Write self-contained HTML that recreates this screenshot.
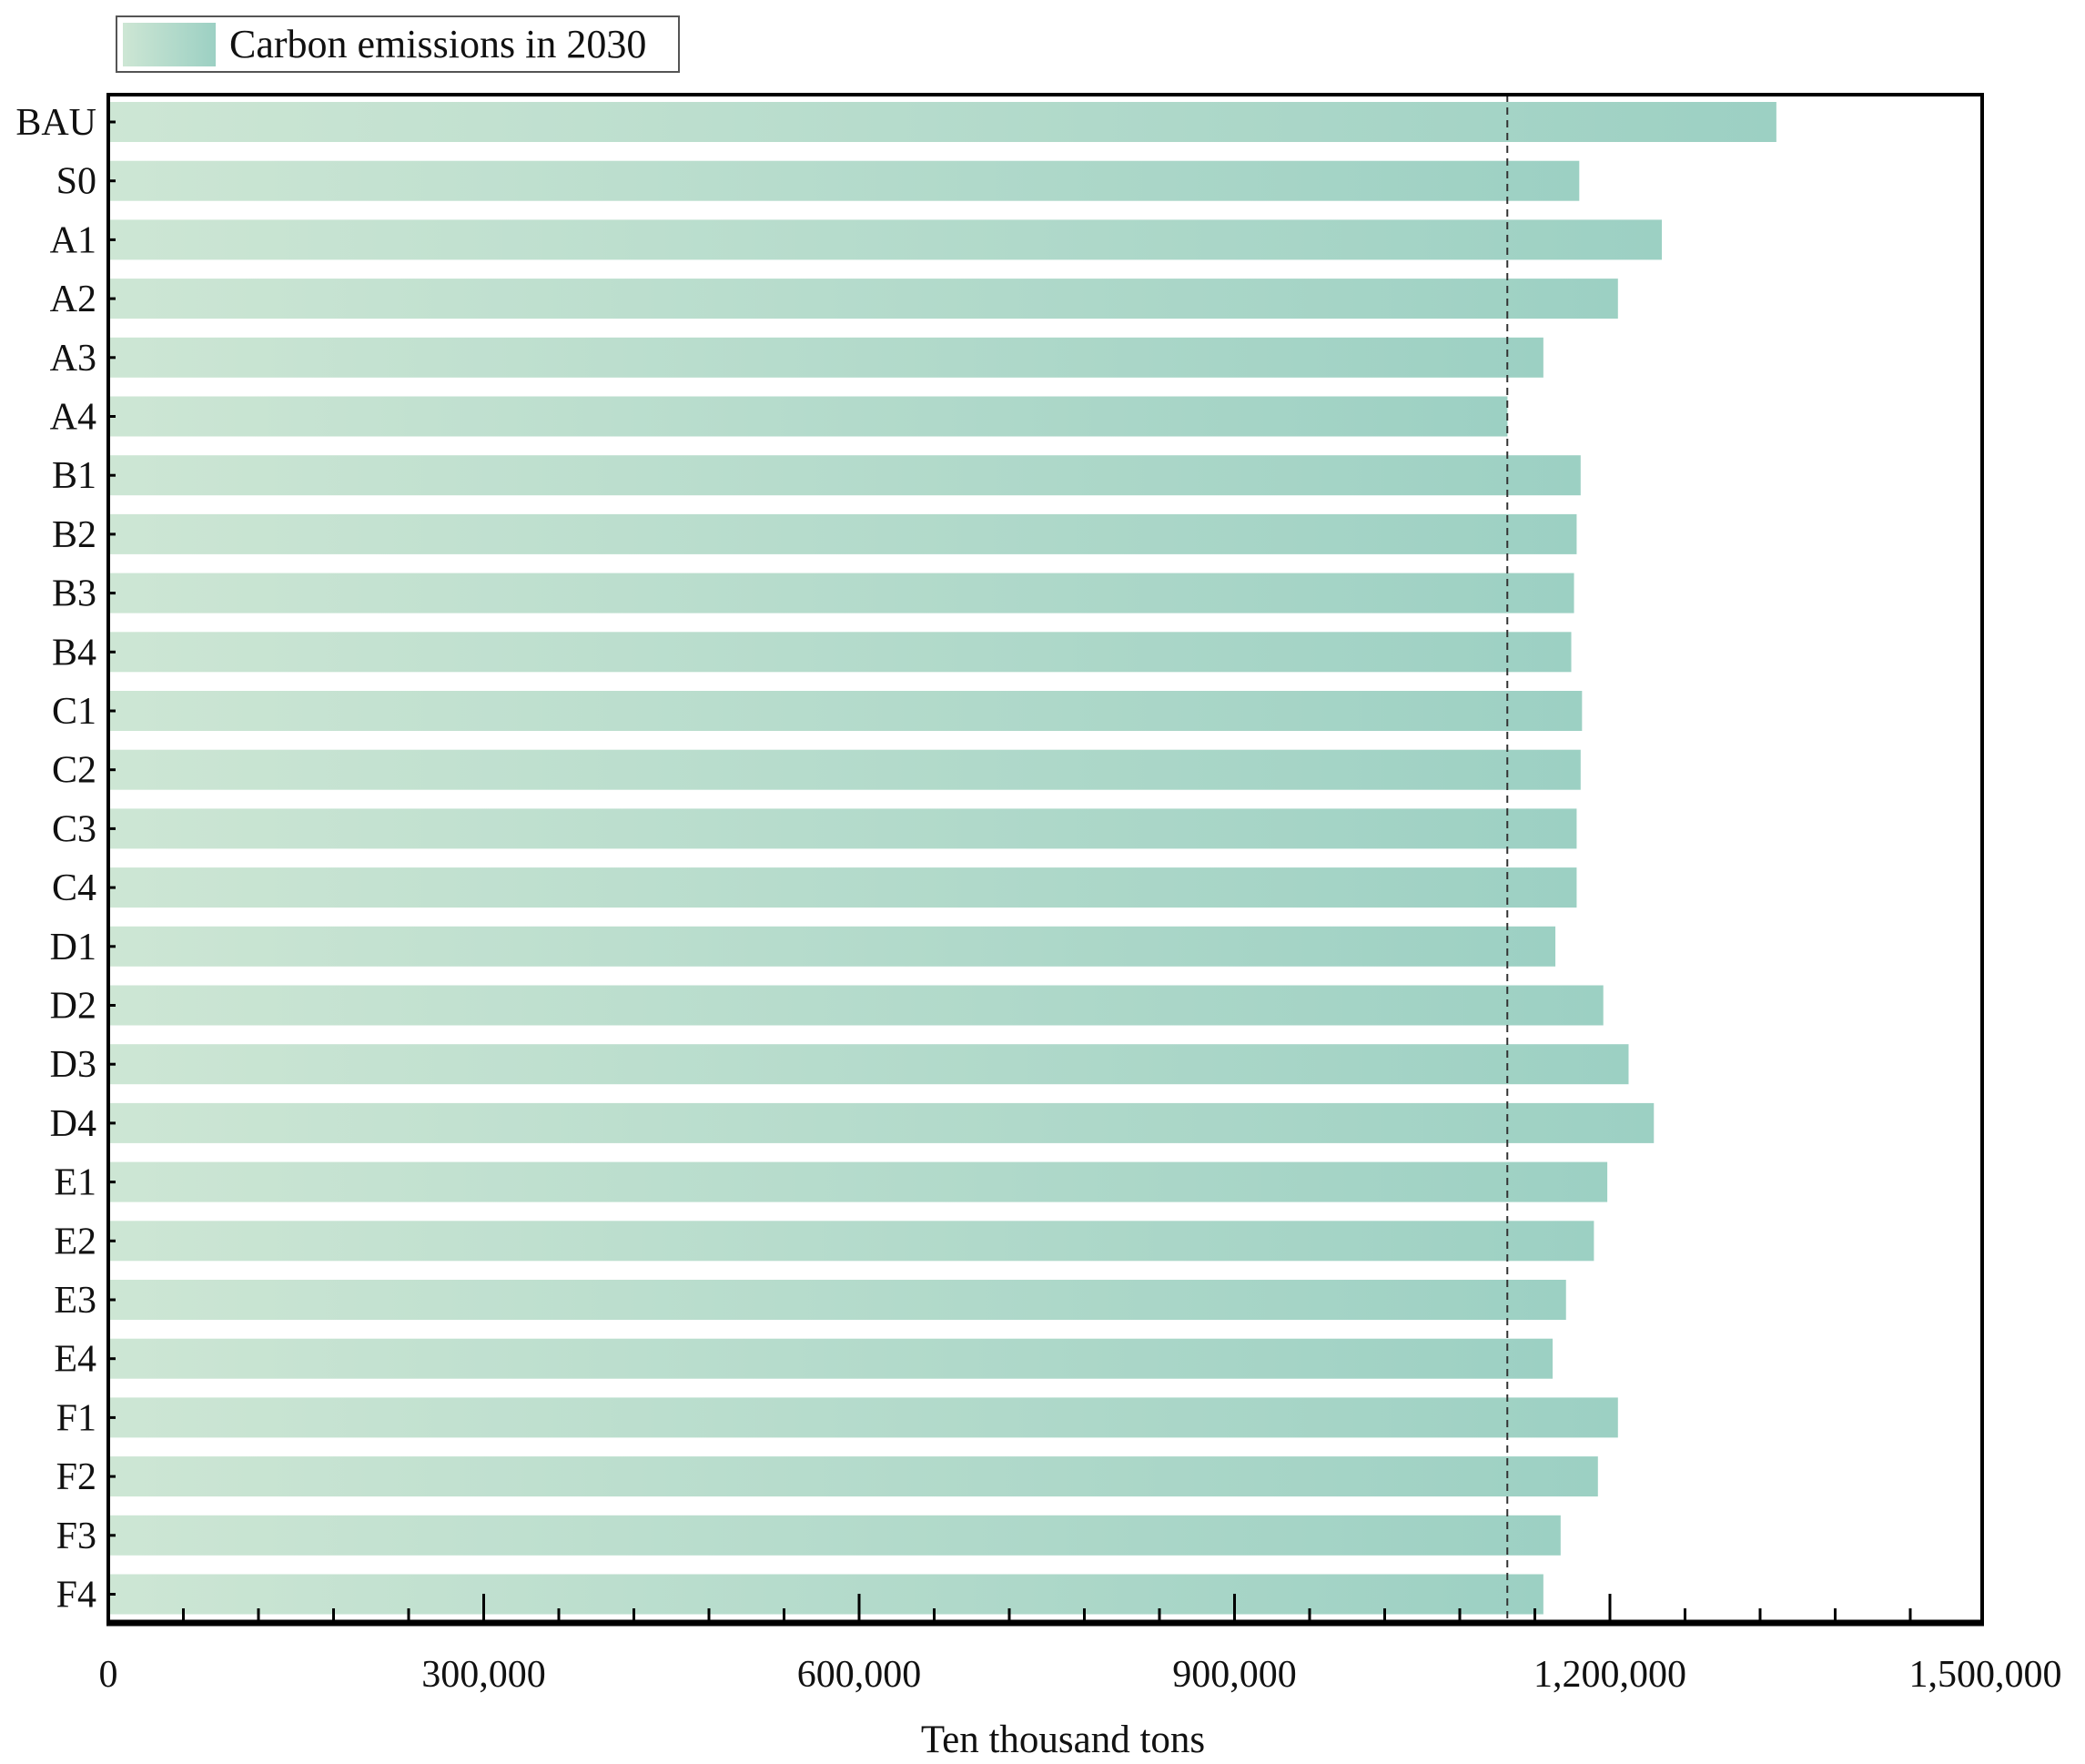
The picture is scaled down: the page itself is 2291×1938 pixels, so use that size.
<!DOCTYPE html>
<html><head><meta charset="utf-8"><style>
html,body{margin:0;padding:0;background:#fff;}
svg{display:block;}
text{font-family:"Liberation Serif",serif;fill:#111;}
</style></head><body>
<svg id="chart" width="2291" height="1938" viewBox="0 0 2291 1938" xmlns="http://www.w3.org/2000/svg">
<defs>
<linearGradient id="barGrad" x1="0" y1="0" x2="1" y2="0">
<stop offset="0" stop-color="#cde6d4"/>
<stop offset="1" stop-color="#9cd0c3"/>
</linearGradient>
</defs>
<g id="legend">
<rect x="128" y="18" width="618" height="61" fill="#fff" stroke="#555" stroke-width="2"/>
<rect x="135" y="25" width="102" height="48" fill="url(#barGrad)"/>
<text x="252" y="63" font-size="44">Carbon emissions in 2030</text>
</g>
<g id="bars"></g>
<g id="axes"></g>
</svg>
<script>
const categories = ["BAU","S0","A1","A2","A3","A4","B1","B2","B3","B4","C1","C2","C3","C4","D1","D2","D3","D4","E1","E2","E3","E4","F1","F2","F3","F4"];
const emissions = [1333000,1175500,1241500,1206400,1146800,1118100,1176600,1173400,1171300,1169100,1177700,1176600,1173400,1173400,1156400,1194700,1214900,1235100,1197900,1187200,1164900,1154200,1206400,1190400,1160600,1146800];
const referenceValue = 1118000;
const xTicks = [0,300000,600000,900000,1200000,1500000];
const xTickLabels = ["0","300,000","600,000","900,000","1,200,000","1,500,000"];
const xMax = 1500000;

const NS = "http://www.w3.org/2000/svg";
const L = 119, R = 2178, T = 104, B = 1783;
const firstC = 134, step = 64.7, barH = 44;
const x = v => L + (v/300000)*412.5;
const y = i => firstC + i*step;
function mk(tag, attrs, parent){const e=document.createElementNS(NS,tag);for(const k in attrs)e.setAttribute(k,attrs[k]);parent.appendChild(e);return e;}
const bars = document.getElementById('bars');
const axes = document.getElementById('axes');

categories.forEach((c,i)=>{
  const r = mk('rect',{x:L,y:y(i)-barH/2,width:x(emissions[i])-L,height:barH,fill:'url(#barGrad)'},bars);
  
  
  const t = mk('text',{x:106,y:y(i)+14,'font-size':42,'text-anchor':'end'},axes);
  t.textContent = c;
  
  
  const tk = mk('line',{x1:L,x2:L+8,y1:y(i),y2:y(i),stroke:'#000','stroke-width':3},axes);
  
  
});

const ref = mk('line',{x1:x(referenceValue),x2:x(referenceValue),y1:T,y2:B,stroke:'#333','stroke-width':2,'stroke-dasharray':'8,6'},axes);



const frame = mk('rect',{x:L,y:T,width:R-L,height:B-T,fill:'none',stroke:'#000','stroke-width':4},axes);


const xa = mk('line',{x1:L-2,x2:R+2,y1:B,y2:B,stroke:'#000','stroke-width':7},axes);



for(let v=60000; v<xMax; v+=60000){
  const major = v % 300000 === 0;
  const tk = mk('line',{x1:x(v),x2:x(v),y1:B,y2:B-(major?32:16),stroke:'#000','stroke-width':3},axes);
  
  
}
xTicks.forEach((v,i)=>{
  const t = mk('text',{x:Math.min(x(v), 2222),y:1853,'font-size':42,'text-anchor':'middle'},axes);
  t.textContent = xTickLabels[i];
  
  
});
const title = mk('text',{x:1168,y:1925,'font-size':43,'text-anchor':'middle'},axes);
title.textContent = 'Ten thousand tons';


</script>
</body></html>
